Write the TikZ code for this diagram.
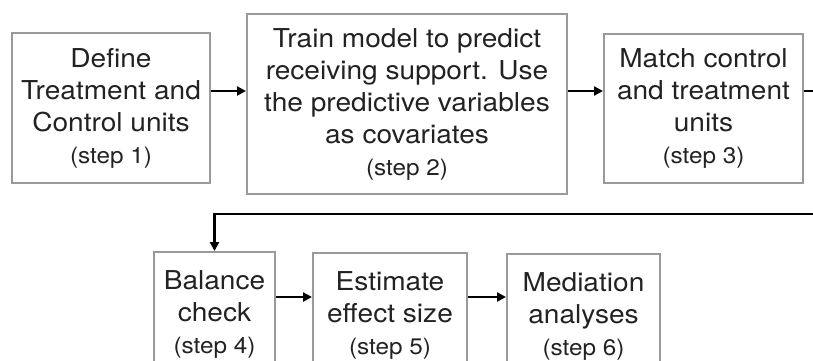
\documentclass[tikz,border=0pt]{standalone}
\usepackage{fontspec}
\setmainfont[FakeStretch=1.08]{TeX Gyre Heros}
\usetikzlibrary{arrows.meta}
\definecolor{boxgray}{HTML}{9A9A9A}
\definecolor{txtgray}{HTML}{222222}
\newcommand{\stepno}[1]{{\fontsize{22.5}{32}\selectfont(step #1)}}
\tikzset{
        stepbox/.style={draw=boxgray, line width=2pt, align=center, text=txtgray,
                font=\fontsize{26}{32}\selectfont, inner sep=0pt},
        flow/.style={line width=2.2pt, -{Triangle[length=9pt,width=9pt]}}
}
\begin{document}
\begin{tikzpicture}[x=1pt,y=-1pt]
        \useasboundingbox (0,0) rectangle (813,361);
        \clip (0,0) rectangle (813,361);
        \node[stepbox, minimum width=198pt, minimum height=150pt] (define) at (111,108)
                {Define\\Treatment and\\Control units\\\stepno{1}};
        \node[stepbox, minimum width=320pt, minimum height=180pt] (train) at (407,104)
                {Train model to predict\\receiving support. Use\\the predictive variables\\as covariates\\\stepno{2}};
        \node[stepbox, minimum width=199pt, minimum height=149pt] (match) at (703.5,108.5)
                {Match control\\and treatment\\units\\\stepno{3}};
        \node[stepbox, minimum width=121pt, minimum height=124pt] (balance) at (214.5,314)
                {Balance\\check\\\stepno{4}};
        \node[stepbox, minimum width=154pt, minimum height=124pt] (estimate) at (390,315)
                {Estimate\\effect size\\\stepno{5}};
        \node[stepbox, minimum width=153pt, minimum height=124pt] (mediation) at (583.5,316)
                {Mediation\\analyses\\\stepno{6}};
        \coordinate (row1) at (0,91);
        \coordinate (row2) at (0,297);
        \coordinate (edge) at (830,91);
        \coordinate (back) at (830,214);
        \foreach \a/\b in {define/train,train/match} {
                \draw[flow] (\a.east |- row1) -- (\b.west |- row1);
        }
        \foreach \a/\b in {balance/estimate,estimate/mediation} {
                \draw[flow] (\a.east |- row2) -- (\b.west |- row2);
        }
        \draw[flow] (match.east |- row1) -- (edge) -- (back) -| (balance.north);
\end{tikzpicture}
\end{document}
